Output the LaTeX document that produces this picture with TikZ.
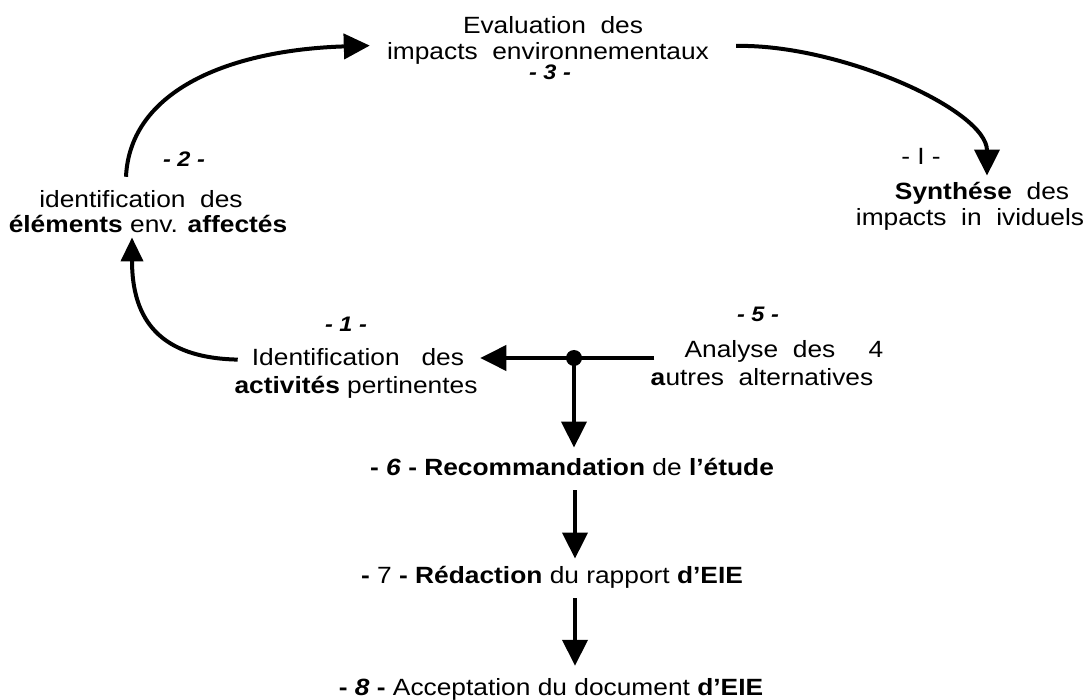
\documentclass[tikz,border=0pt]{standalone}
\usepackage{fontspec}
\setmainfont{Liberation Sans}[FakeStretch=1.12]
\usetikzlibrary{arrows.meta,calc}
\begin{document}
\begin{tikzpicture}[x=1pt,y=-1pt,
  txt/.style={font=\fontsize{23.5}{27}\selectfont, inner sep=0pt, anchor=base},
  num/.style={font=\fontsize{21}{24}\selectfont\bfseries\itshape, inner sep=0pt, anchor=base},
  flow/.style={line width=4pt, -{Triangle[length=26pt,width=25pt]}},
  plainline/.style={line width=4pt}]
\useasboundingbox (0,0) rectangle (1089,700);

% texts
\node[txt] (n3a) at (553,34) {Evaluation\ \ des};
\node[txt] (n3b) at (548,60) {impacts\ \ environnementaux};
\node[num] (l3) at (550,80) {- 3 -};

\node[num] (l2) at (184,167) {- 2 -};
\node[txt] (n2a) at (141,208) {identification\ \ des};
\node[txt] (n2b) at (148,233) {\textbf{éléments} env. \textbf{affectés}};

\node[txt] (lI) at (921,165) {- I -};
\node[txt] (nIa) at (982,200) {\textbf{Synthése}\ \ des};
\node[txt] (nIb) at (970,226) {impacts\ \ in\ \ ividuels};

\node[num] (l1) at (346,332) {- 1 -};
\node[txt] (n1a) at (358,366) {Identification\ \ \ des};
\node[txt] (n1b) at (356,393) {\textbf{activités} pertinentes};

\node[num] (l5) at (758,322) {- 5 -};
\node[txt] (n5a) at (760,357) {Analyse\ \ des};
\node[txt] (n4) at (876,357) {4};
\node[txt] (n5b) at (762,385) {\textbf{a}utres\ \ alternatives};

\node[txt] (n6) at (572,475) {\textbf{- \textit{6} - Recommandation} de \textbf{l'étude}};
\node[txt] (n7) at (552,583) {\textbf{-} 7 \textbf{- Rédaction} du rapport \textbf{d'EIE}};
\node[txt] (n8) at (551,695) {\textbf{- \textit{8} -} Acceptation du document \textbf{d'EIE}};

% junction
\coordinate (J) at (574,358);
\coordinate (R) at ($(n5a.west)+(-30,0)$);
\draw[plainline] (J -| R) -- (J);
\draw[flow] (J) -- ($(J -| n1a.east)+(16,0)$);
\draw[flow] (J) -- ($(J |- n6.north)+(0,-10)$);
\fill (J) circle (8);

% curved connectors
\draw[flow,-{Triangle[length=24pt,width=22pt]}] ($(n1a.west)+(-14,2)$) .. controls (160,358) and (132,320) .. ($(n2b.south)+(-16,4)$);
\draw[flow] ($(n2a.north)+(-15,-14)$) .. controls (130,90) and (230,50) .. ($(n3a.west)+(-93,20)$);
\draw[flow] ($(n3b.east)+(27,-8)$) .. controls (840,44) and (987,110) .. ($(nIa.north)+(5,-7)$);

% vertical chain
\draw[flow] ($(n6.south)+(3,15)$) -- ($(n7.north)+(23,-7)$);
\draw[flow] ($(n7.south)+(23,10)$) -- ($(n8.north)+(24,-12)$);
\end{tikzpicture}
\end{document}
